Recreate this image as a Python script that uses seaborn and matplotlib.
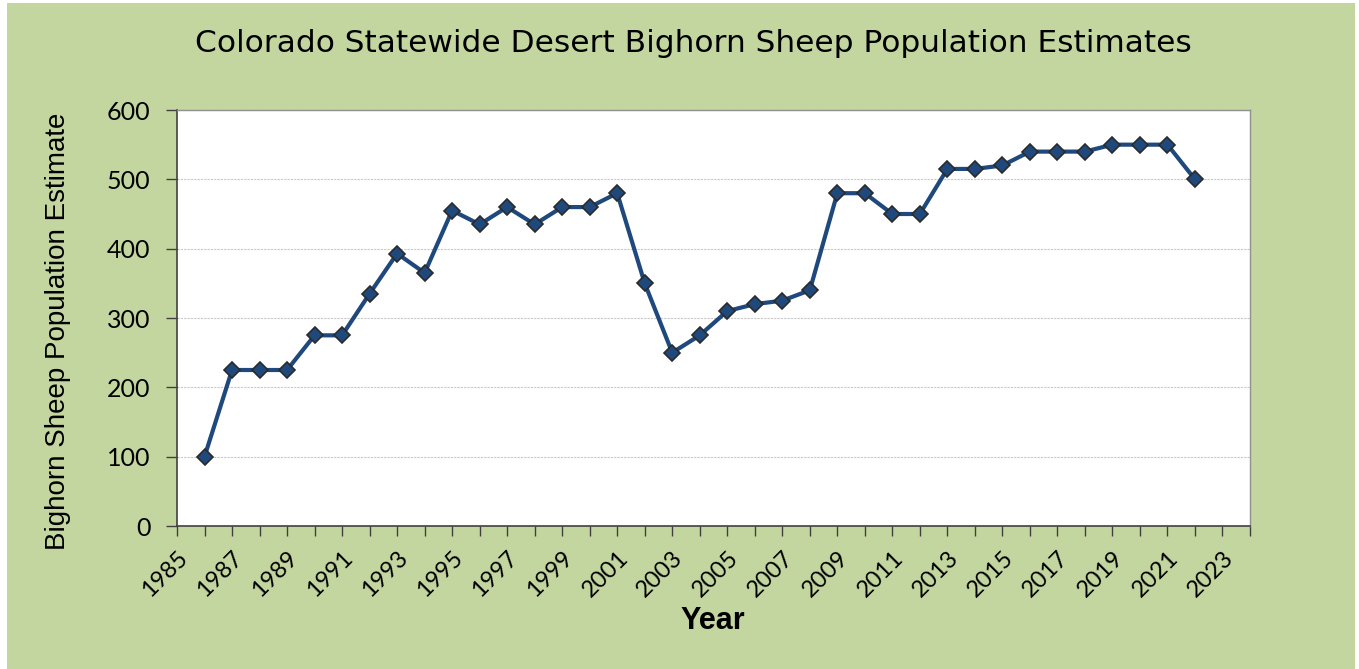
import matplotlib
matplotlib.use("Agg")
import matplotlib.pyplot as plt
import seaborn as sns
import pandas as pd
from matplotlib.patches import Rectangle
from matplotlib.ticker import MultipleLocator

# ----------------------------------
# Daten
# ----------------------------------

years = list(range(1986, 2023))
estimates = [100, 225, 225, 225, 275, 275, 335, 393, 365, 455,
             435, 460, 435, 460, 460, 480, 350, 250, 275, 310,
             320, 325, 340, 480, 480, 450, 450, 515, 515, 520,
             540, 540, 540, 550, 550, 550, 500]
year_ticks = list(range(1985, 2024, 2))
y_ticks = [0, 100, 200, 300, 400, 500, 600]

df = pd.DataFrame({"Year": years, "Estimate": estimates})

# ----------------------------------
# Plot
# ----------------------------------

sns.set_theme(style="white")
plt.rcParams["font.family"] = ["Liberation Sans", "DejaVu Sans"]
plt.rcParams["text.color"] = "black"
plt.rcParams["axes.labelcolor"] = "black"
plt.rcParams["xtick.color"] = "black"
plt.rcParams["ytick.color"] = "black"

green = "#c4d69f"
blue = "#1f497d"

fig = plt.figure(figsize=(13.59, 6.69), dpi=100)
fig.patch.set_facecolor("white")
fig.patches.append(Rectangle((7 / 1359, 0), (1355 - 7) / 1359, 1 - 3 / 669,
                             transform=fig.transFigure, facecolor=green,
                             edgecolor="none", zorder=-10))

ax = fig.add_axes([177 / 1359, 1 - 526 / 669, (1250 - 177) / 1359, (526 - 110) / 669])
ax.set_facecolor("white")

sns.lineplot(data=df, x="Year", y="Estimate", ax=ax, color=blue, linewidth=3,
             marker="D", markersize=8, markerfacecolor=blue,
             markeredgecolor="#2b2b2b", markeredgewidth=1.2)

ax.set_xlim(1985, 2024)
ax.set_ylim(0, 600)
ax.set_xticks(year_ticks)
ax.xaxis.set_minor_locator(MultipleLocator(1))
ax.set_yticks(y_ticks)
ax.set_xticklabels([str(y) for y in year_ticks], rotation=45, ha="right",
                   rotation_mode="anchor", fontsize=17, family=["Lato", "DejaVu Sans"])
ax.set_yticklabels([str(v) for v in y_ticks], fontsize=18, family=["Lato", "DejaVu Sans"])

ax.grid(axis="y", color="#c8c8c8", linestyle=(0, (2, 1)), linewidth=0.8)
ax.tick_params(axis="x", which="both", direction="out", length=7, width=1,
               color="#404040", bottom=True, pad=8)
ax.tick_params(axis="y", which="major", direction="out", length=8, width=1,
               color="#404040", left=True, pad=11)

for side in ["left", "bottom"]:
    ax.spines[side].set_color("#404040")
    ax.spines[side].set_linewidth(1.2)
for side in ["top", "right"]:
    ax.spines[side].set_color("#909090")
    ax.spines[side].set_linewidth(1)

ax.set_xlabel("Year", fontsize=22, fontweight="bold",
              family=["Liberation Sans Narrow", "Liberation Sans", "DejaVu Sans"])
ax.xaxis.label.set_va("center")
ax.xaxis.set_label_coords((713 - 177) / 1073, -(621 - 526) / 416)

ax.set_ylabel("Bighorn Sheep Population Estimate", fontsize=20,
              family=["Liberation Sans Narrow", "Liberation Sans", "DejaVu Sans"])
ax.yaxis.label.set_va("center")
ax.yaxis.set_label_coords((58 - 177) / 1073, (526 - 331) / 416)

fig.text(693 / 1359, 1 - 44 / 669, "Colorado Statewide Desert Bighorn Sheep Population Estimates",
         ha="center", va="center", fontsize=22.5, family=["DejaVu Sans"])

fig.savefig("out.png", dpi=100, facecolor=fig.get_facecolor())
plt.close(fig)
